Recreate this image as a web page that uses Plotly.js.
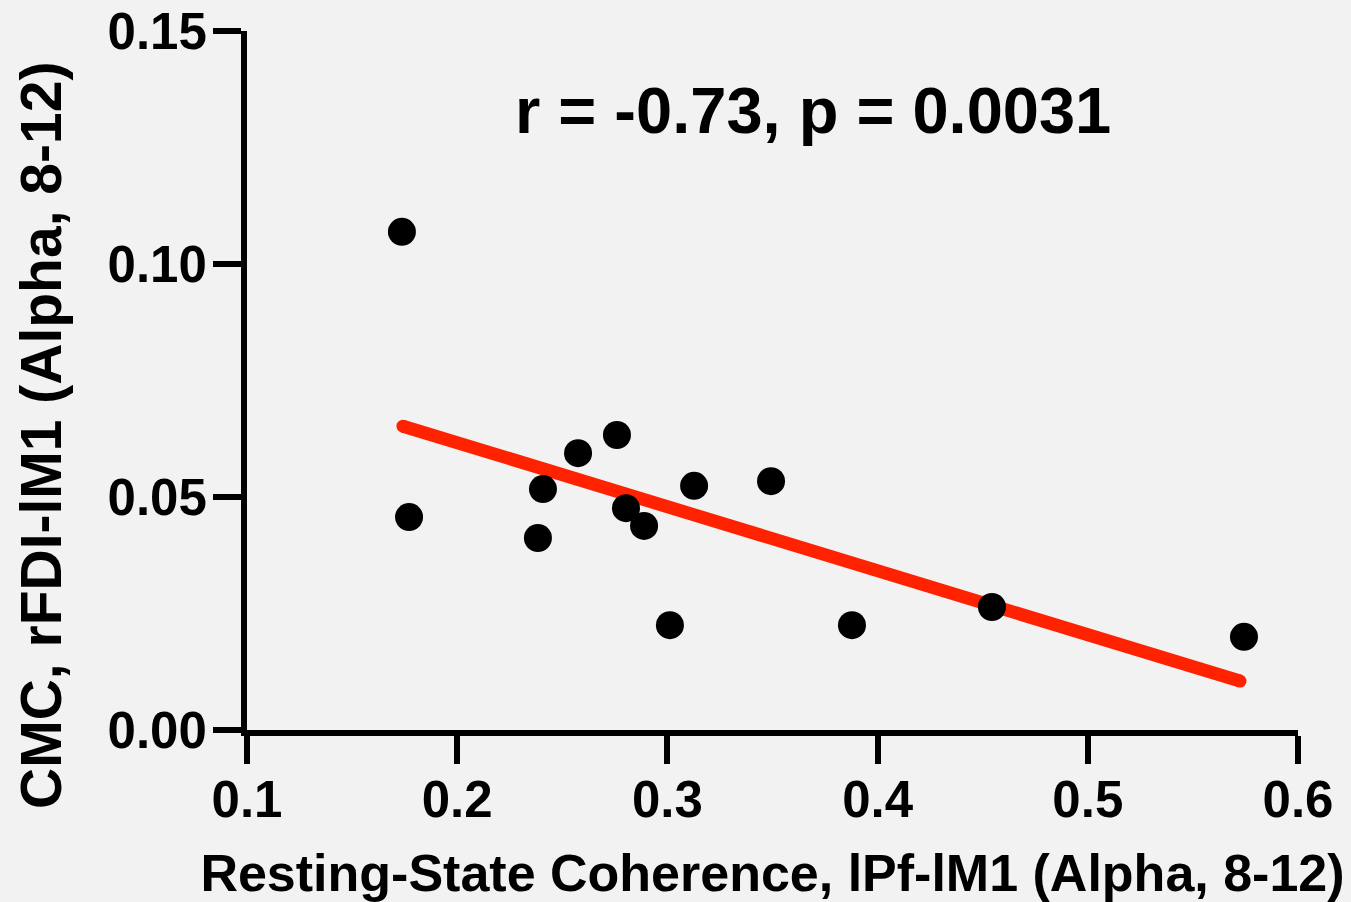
<!DOCTYPE html>
<html>
<head>
<meta charset="utf-8">
<script src="https://cdn.plot.ly/plotly-3.0.1.min.js"></script>
<style>
  html, body { margin: 0; padding: 0; background: #f2f2f2; }
  #chart { width: 1351px; height: 902px; }
</style>
</head>
<body>
<div id="chart"></div>
<script>
// Data
const coherence = [0.1737, 0.1771, 0.2384, 0.2408, 0.2575, 0.2760, 0.2803, 0.2889, 0.3012, 0.3127, 0.3493, 0.3878, 0.4544, 0.5743];
const cmc       = [0.1069, 0.0457, 0.0412, 0.0517, 0.0594, 0.0633, 0.0476, 0.0438, 0.0225, 0.0524, 0.0534, 0.0225, 0.0264, 0.0200];
// Fitted regression line endpoints
const fitX = [0.1742, 0.5724];
const fitY = [0.0652, 0.0105];
const xTicks = [0.1, 0.2, 0.3, 0.4, 0.5, 0.6];
const xTickText = ['0.1', '0.2', '0.3', '0.4', '0.5', '0.6'];
const yTicks = [0.00, 0.05, 0.10, 0.15];
const yTickText = ['0.00', '0.05', '0.10', '0.15'];
const statText = 'r = -0.73, p = 0.0031';
const xTitle = 'Resting-State Coherence, lPf-lM1 (Alpha, 8-12)';
const yTitle = 'CMC, rFDI-lM1 (Alpha, 8-12)';

const FONT = 'Liberation Sans, Arial, Helvetica, sans-serif';

const traces = [
  {
    x: fitX, y: fitY,
    type: 'scatter', mode: 'lines+markers',
    line: { color: '#ff2200', width: 13 },
    marker: { color: '#ff2200', size: 13 },
    hoverinfo: 'skip', showlegend: false, cliponaxis: false
  },
  {
    x: coherence, y: cmc,
    type: 'scatter', mode: 'markers',
    marker: { color: '#000000', size: 28 },
    showlegend: false, cliponaxis: false
  }
];

const axisCommon = {
  showgrid: false, zeroline: false,
  showline: true, linecolor: '#000', linewidth: 6,
  ticks: 'outside', ticklen: 28, tickwidth: 6, tickcolor: '#000',
  tickfont: { family: FONT, size: 51, color: '#000', weight: 'bold' },
  tickmode: 'array', automargin: false
};

const layout = {
  width: 1351, height: 902,
  paper_bgcolor: '#f2f2f2', plot_bgcolor: '#f2f2f2',
  margin: { l: 247, r: 53, t: 31, b: 172 },
  showlegend: false,
  xaxis: Object.assign({}, axisCommon, {
    range: [0.1, 0.6], tickvals: xTicks, ticktext: xTickText,
    ticklabelstandoff: -8,
    title: { text: xTitle, font: { family: FONT, size: 52, color: '#000', weight: 'bold' }, standoff: 29 }
  }),
  yaxis: Object.assign({}, axisCommon, {
    range: [0, 0.15], tickvals: yTicks, ticktext: yTickText,
    ticklabelstandoff: -4
  }),
  annotations: [
    {
      x: 0.3693, y: 0.1330, xref: 'x', yref: 'y',
      text: statText, showarrow: false,
      xanchor: 'center', yanchor: 'middle',
      font: { family: FONT, size: 65, color: '#000', weight: 'bold' }
    },
    {
      x: 0, y: 0.4206, xref: 'paper', yref: 'paper',
      xshift: -206, textangle: -90,
      text: yTitle, showarrow: false,
      xanchor: 'center', yanchor: 'middle',
      font: { family: FONT, size: 57, color: '#000', weight: 'bold' }
    }
  ]
};

Plotly.newPlot('chart', traces, layout, { displayModeBar: false, staticPlot: true });
</script>
</body>
</html>
